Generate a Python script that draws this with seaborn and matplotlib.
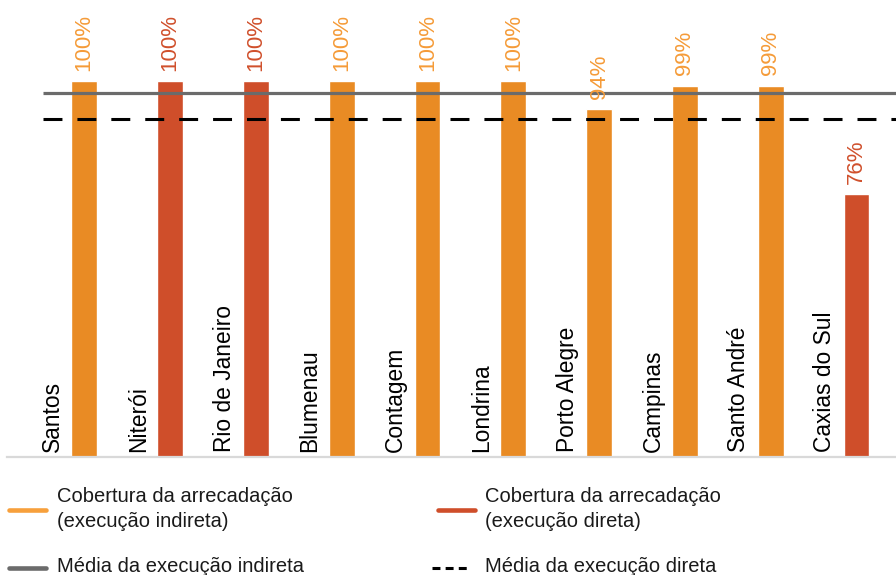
import matplotlib
matplotlib.use("Agg")
import matplotlib.pyplot as plt
import seaborn as sns
import pandas as pd
from matplotlib.lines import Line2D

# ---- data ----
cities = ["Santos", "Niterói", "Rio de Janeiro", "Blumenau", "Contagem",
          "Londrina", "Porto Alegre", "Campinas", "Santo André", "Caxias do Sul"]
coverage = [100, 100, 100, 100, 100, 100, 94, 99, 99, 76]
execution = ["indireta", "direta", "direta", "indireta", "indireta",
             "indireta", "indireta", "indireta", "indireta", "direta"]
mean_indirect = 97.5
mean_direct = 92
legend_labels = ["Cobertura da arrecadação\n(execução indireta)",
                 "Cobertura da arrecadação\n(execução direta)",
                 "Média da execução indireta",
                 "Média da execução direta"]

df = pd.DataFrame({"city": cities, "value": coverage, "exec": execution})

ORANGE = "#E98B24"
RED = "#CF4E2A"
ORANGE_TXT = "#F59B38"
RED_TXT = "#D0502C"
palette = {"indireta": ORANGE, "direta": RED}
txt_col = {"indireta": ORANGE_TXT, "direta": RED_TXT}

sns.set_theme(style="white")
plt.rcParams["font.family"] = ["Liberation Sans", "DejaVu Sans"]

W, H = 896, 575
fig = plt.figure(figsize=(W / 100, H / 100), dpi=100)
ax = fig.add_axes([7 / W, (H - 457) / H, (W - 7) / W, 457 / H])

sns.barplot(data=df, x="city", y="value", hue="exec", palette=palette,
            dodge=False, width=0.3, legend=False, ax=ax, saturation=1)

ymin, ymax = 20.2, 117.2
ax.set_ylim(ymin, ymax)
xl, xr = -0.9, 9.46
ax.set_xlim(xl, xr)

# mean lines
ax.hlines(mean_indirect, -0.48, xr, color="#6B6B6B", lw=2.3, zorder=3)
ax.hlines(mean_direct, -0.48, xr, color="black", lw=2.2,
          linestyles=(0, (6.2, 4.9)), zorder=3)

# value labels
for i, (v, e) in enumerate(zip(coverage, execution)):
    ax.annotate(f"{v}%", (i, v), xytext=(0, 7.5), textcoords="offset points",
                rotation=90, ha="center", va="bottom", fontsize=16,
                color=txt_col[e])

# category labels
for i, c in enumerate(cities):
    ax.annotate(c, (i - 0.37, ymin), xytext=(0, 3.5), textcoords="offset points",
                rotation=90, ha="center", va="bottom", fontsize=16.4,
                color="black")

for s in ["top", "right", "left"]:
    ax.spines[s].set_visible(False)
ax.spines["bottom"].set_color("#D9D9D9")
ax.spines["bottom"].set_linewidth(1.6)
ax.set_xticks([])
ax.set_yticks([])
ax.set_xlabel("")
ax.set_ylabel("")

# manual legend
def fx(px):
    return px / W

def fy(py):
    return 1 - py / H

handles = [
    dict(x0=9, x1=46, y=510, color="#F7A03C", ls="-", lw=3.3),
    dict(x0=438, x1=475, y=510, color=RED, ls="-", lw=3.3),
    dict(x0=9, x1=46, y=568, color="#6B6B6B", ls="-", lw=3.3),
    dict(x0=432, x1=470, y=568, color="black", ls=(0, (2.6, 1.7)), lw=2.2),
]
text_pos = [(57, 509), (485, 509), (57, 567), (485, 567)]
for h, lab, (tx, ty) in zip(handles, legend_labels, text_pos):
    fig.add_artist(Line2D([fx(h["x0"]), fx(h["x1"])], [fy(h["y"]), fy(h["y"])],
                          color=h["color"], lw=h["lw"], ls=h["ls"],
                          solid_capstyle="round" if h["ls"] == "-" else "butt",
                          transform=fig.transFigure))
    fig.text(fx(tx), fy(ty), lab, ha="left", va="center", fontsize=14.5,
             color="#1a1a1a", linespacing=1.35)

fig.savefig("out.png", dpi=100)
